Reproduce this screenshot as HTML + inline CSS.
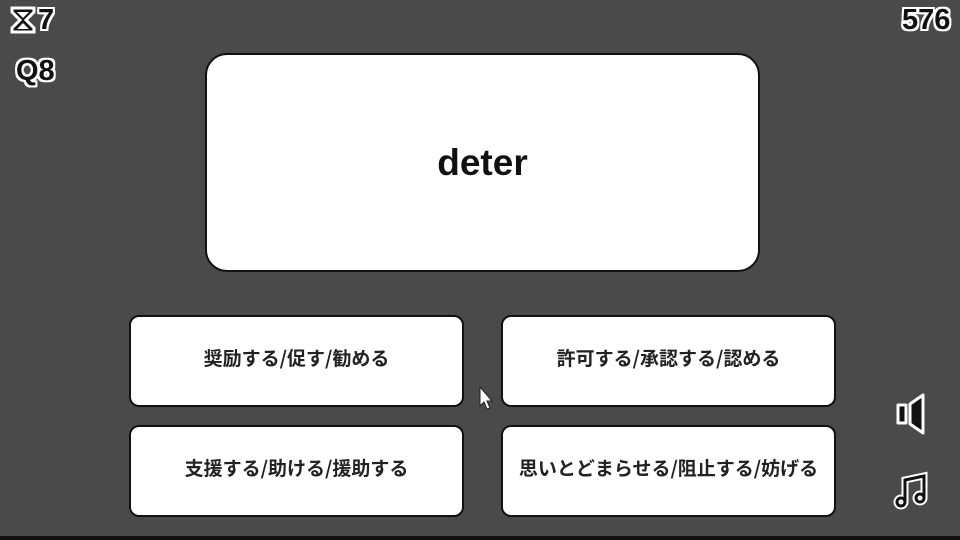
<!DOCTYPE html>
<html><head><meta charset="utf-8"><style>
body{margin:0;width:960px;height:540px;background:#4a4a4a;position:relative;overflow:hidden;font-family:"Liberation Sans","Noto Sans CJK JP",sans-serif}
.bar{position:absolute;left:0;top:536px;width:960px;height:4px;background:#111}
.card{position:absolute;left:205px;top:53px;width:551px;height:215px;background:#fff;border:2px solid #111;border-radius:22px;display:flex;align-items:center;justify-content:center;font-size:37px;font-weight:bold;color:#111;box-sizing:content-box}
.card span{position:relative;top:0px}
.btn{position:absolute;width:331px;height:88px;background:#fff;border:2px solid #111;border-radius:10px;display:flex;align-items:center;justify-content:center;font-size:19px;font-weight:bold;color:#222;font-family:"Noto Sans CJK JP",sans-serif}
.btn span{position:relative;top:-4px}
.o{position:absolute;font-weight:bold;color:#111;font-size:29px;text-shadow:-2px -2px 0 #fff,2px -2px 0 #fff,-2px 2px 0 #fff,2px 2px 0 #fff,0 2px 0 #fff,0 -2px 0 #fff,2px 0 0 #fff,-2px 0 0 #fff}
</style></head><body>
<div class="o" style="left:38px;top:4px">7</div>
<svg style="position:absolute;left:9px;top:5px" width="28" height="30" viewBox="0 0 28 30"><path d="M3 3H25V7L17 15L25 23V27H3V23L11 15L3 7Z" fill="#111" stroke="#fff" stroke-width="3"/><path d="M8 7H20L14 13Z M8 24L14 18L20 24Z" fill="#fff"/></svg>
<div class="o" style="left:16px;top:55px">Q8</div>
<div class="o" style="left:902px;top:4px">576</div>
<div class="card"><span>deter</span></div>
<div class="btn" style="left:129px;top:315px"><span>奨励する/促す/勧める</span></div>
<div class="btn" style="left:501px;top:315px"><span>許可する/承認する/認める</span></div>
<div class="btn" style="left:129px;top:425px"><span>支援する/助ける/援助する</span></div>
<div class="btn" style="left:501px;top:425px"><span>思いとどまらせる/阻止する/妨げる</span></div>
<svg style="position:absolute;left:478px;top:386px" width="16" height="26" viewBox="0 0 16 26"><path d="M2 1V20L6 16L9 23L12 22L9 15H14Z" fill="#fff" stroke="#222" stroke-width="1"/></svg>
<svg style="position:absolute;left:893px;top:392px" width="40" height="44" viewBox="0 0 40 44"><path d="M5 13H13V31H5Z M17 12L30 3V41L17 32Z" fill="#111" stroke="#fff" stroke-width="3" stroke-linejoin="round"/></svg>
<svg style="position:absolute;left:893px;top:470px" width="40" height="42" viewBox="0 0 40 42"><g fill="none" stroke="#fff" stroke-width="7" stroke-linecap="round"><path d="M12 32V10L31 6V27"/><circle cx="8" cy="32" r="4"/><circle cx="27" cy="28" r="4"/></g><g fill="none" stroke="#111" stroke-width="3" stroke-linecap="round"><path d="M12 32V10L31 6V27"/><circle cx="8" cy="32" r="4"/><circle cx="27" cy="28" r="4"/></g></svg>
<div class="bar"></div>
</body></html>
